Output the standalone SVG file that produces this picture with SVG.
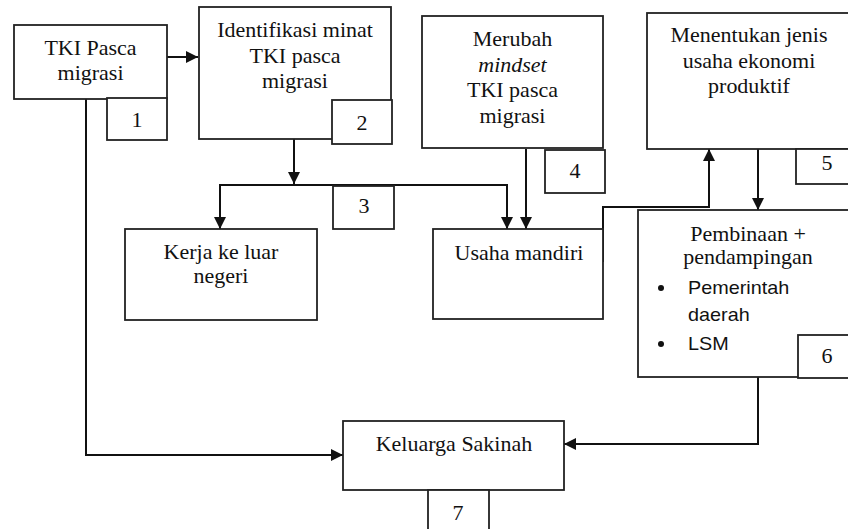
<svg xmlns="http://www.w3.org/2000/svg" width="848" height="529" viewBox="0 0 848 529">
<style>
.box{fill:#fff;stroke:#222;stroke-width:1.8}
.num{fill:#fff;stroke:#222;stroke-width:1.8}
.con{fill:none;stroke:#111;stroke-width:2}
.t{font-family:"Liberation Serif","Times New Roman",serif;font-size:20px;fill:#111;text-anchor:middle}
.s{font-family:"Liberation Sans",Arial,sans-serif;font-size:18px;fill:#111}
</style>
<defs>
<marker id="ah" markerUnits="userSpaceOnUse" markerWidth="12" markerHeight="12" refX="12" refY="6" orient="auto">
<path d="M0,0 L12,6 L0,12 Z" fill="#111"/>
</marker>
</defs>
<rect width="848" height="529" fill="#fff"/>
<g id="connectors">
<path class="con" d="M167,57 H198" marker-end="url(#ah)"/>
<path class="con" d="M294,139 V184" marker-end="url(#ah)"/>
<path class="con" d="M294,185 H220 V229" marker-end="url(#ah)"/>
<path class="con" d="M294,185 H507 V229" marker-end="url(#ah)"/>
<path class="con" d="M526,149 V229" marker-end="url(#ah)"/>
<path class="con" d="M603,262 V207 H709 V149" marker-end="url(#ah)"/>
<path class="con" d="M758,149 V210" marker-end="url(#ah)"/>
<path class="con" d="M758,377 V444 H564" marker-end="url(#ah)"/>
<path class="con" d="M86,99 V455 H343" marker-end="url(#ah)"/>
</g>
<g id="n1">
<rect class="box" x="14" y="25" width="153" height="74"/>
<rect class="num" x="107" y="98" width="60" height="42"/>
<g transform="scale(1.1,1)">
<text class="t" x="82.3" y="55">TKI Pasca</text>
<text class="t" x="82.3" y="80">migrasi</text>
<text class="t" x="124.5" y="127">1</text>
</g>
</g>
<g id="n2">
<rect class="box" x="199" y="7" width="192" height="132"/>
<rect class="num" x="332" y="100" width="60" height="44"/>
<g transform="scale(1.1,1)">
<text class="t" x="268.2" y="37">Identifikasi minat</text>
<text class="t" x="268.2" y="63">TKI pasca</text>
<text class="t" x="268.2" y="88">migrasi</text>
<text class="t" x="329.1" y="130">2</text>
</g>
</g>
<g id="n3">
<rect class="num" x="333" y="186" width="61" height="43"/>
<g transform="scale(1.1,1)">
<text class="t" x="330.9" y="213">3</text>
</g>
</g>
<g id="n_kerja">
<rect class="box" x="125" y="229" width="192" height="91"/>
<g transform="scale(1.1,1)">
<text class="t" x="200.9" y="259">Kerja ke luar</text>
<text class="t" x="200.9" y="283">negeri</text>
</g>
</g>
<g id="n4">
<rect class="box" x="422" y="16" width="181" height="132"/>
<rect class="num" x="545" y="150" width="60" height="43"/>
<g transform="scale(1.1,1)">
<text class="t" x="465.9" y="46">Merubah</text>
<text class="t" x="465.9" y="72" font-style="italic">mindset</text>
<text class="t" x="465.9" y="97">TKI pasca</text>
<text class="t" x="465.9" y="123">migrasi</text>
<text class="t" x="522.7" y="178">4</text>
</g>
</g>
<g id="n_usaha">
<rect class="box" x="433" y="229" width="170" height="90"/>
<g transform="scale(1.1,1)">
<text class="t" x="471.8" y="260">Usaha mandiri</text>
</g>
</g>
<g id="n5">
<rect class="box" x="647" y="13" width="210" height="136"/>
<rect class="num" x="796" y="149" width="60" height="35"/>
<g transform="scale(1.1,1)">
<text class="t" x="680.9" y="42">Menentukan jenis</text>
<text class="t" x="680.9" y="68">usaha ekonomi</text>
<text class="t" x="680.9" y="93">produktif</text>
<text class="t" x="751.8" y="170">5</text>
</g>
</g>
<g id="n6">
<rect class="box" x="638" y="210" width="220" height="167"/>
<rect class="num" x="798" y="335" width="60" height="43"/>
<circle cx="661" cy="288" r="3" fill="#111"/>
<circle cx="661" cy="344" r="3" fill="#111"/>
<g transform="scale(1.1,1)">
<text class="t" x="680" y="241">Pembinaan +</text>
<text class="t" x="680" y="264">pendampingan</text>
<text class="s" x="625.5" y="294">Pemerintah</text>
<text class="s" x="625.5" y="321">daerah</text>
<text class="s" x="625.5" y="350">LSM</text>
<text class="t" x="751.8" y="363">6</text>
</g>
</g>
<g id="n7">
<rect class="box" x="343" y="421" width="221" height="69"/>
<rect class="num" x="428" y="490" width="61" height="45"/>
<g transform="scale(1.1,1)">
<text class="t" x="412.7" y="451">Keluarga Sakinah</text>
<text class="t" x="416.4" y="520">7</text>
</g>
</g>
</svg>
